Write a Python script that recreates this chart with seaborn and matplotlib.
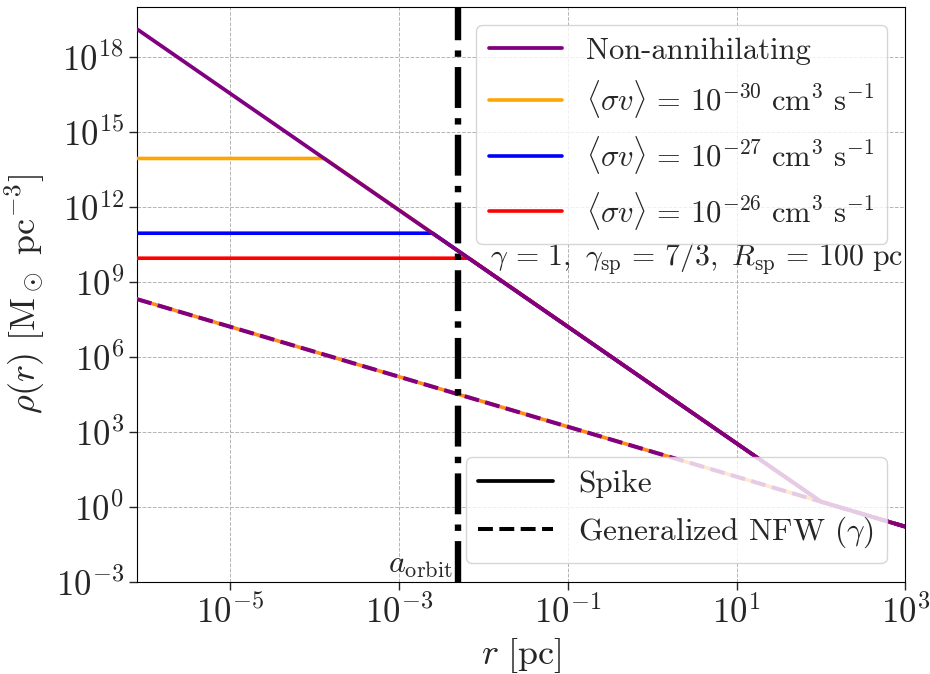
import numpy as np
import pandas as pd
import seaborn as sns
import matplotlib.pyplot as plt
from matplotlib.lines import Line2D
from matplotlib.ticker import FixedLocator, LogFormatterMathtext, NullLocator

# values (log10 of r in pc and rho in Msun/pc^3)
log_r_edges = [-6.1, 2.0, 3.0]          # left edge, R_sp, right edge
log_rho_spike = [19.1, 0.2, -0.8]       # non-annihilating spike (+ NFW tail beyond R_sp)
log_rho_nfw_edges = [8.3, -0.8]         # generalized NFW at left/right edge

sigv_labels = [r"$\langle \sigma v \rangle \,=\, 10^{-30}\ {\rm cm^3\ s^{-1}}$",
               r"$\langle \sigma v \rangle \,=\, 10^{-27}\ {\rm cm^3\ s^{-1}}$",
               r"$\langle \sigma v \rangle \,=\, 10^{-26}\ {\rm cm^3\ s^{-1}}$"]
sigv_colors = ["orange", "blue", "red"]
log_rho_plateau = [13.93, 10.94, 9.94]
log_r_break = [-3.88, -2.60, -2.17]

a_orbit = 5e-3

sns.set_style("ticks")
plt.rcParams.update({
    "font.family": "serif",
    "font.serif": ["cmr10", "DejaVu Serif"],
    "mathtext.fontset": "cm",
    "axes.unicode_minus": False,
    "axes.formatter.use_mathtext": True,
})

fig = plt.figure(figsize=(9.3, 6.74), dpi=100)
ax = fig.add_axes([0.1475, 0.137, 0.826, 0.853])

r_spike = [10**v for v in log_r_edges]
rho_spike = [10**v for v in log_rho_spike]
r_nfw = [10**log_r_edges[0], 10**log_r_edges[-1]]
rho_nfw = [10**v for v in log_rho_nfw_edges]

# annihilating profiles: plateau, then spike
for lab, col, lp, lb in zip(sigv_labels, sigv_colors, log_rho_plateau, log_r_break):
    df = pd.DataFrame({
        "r": [r_spike[0], 10**lb, r_spike[1], r_spike[2]],
        "rho": [10**lp, 10**lp, rho_spike[1], rho_spike[2]],
    })
    sns.lineplot(data=df, x="r", y="rho", color=col, lw=2.6, ax=ax,
                 estimator=None, label=lab, zorder=3)

# NFW (orange under purple dashes)
df_nfw = pd.DataFrame({"r": r_nfw, "rho": rho_nfw})
sns.lineplot(data=df_nfw, x="r", y="rho", color="#ff8c1a", lw=2.6, ax=ax,
             estimator=None, zorder=3)
sns.lineplot(data=df_nfw, x="r", y="rho", color="purple", lw=2.9, ax=ax,
             estimator=None, linestyle="--", zorder=4)

# non-annihilating spike
df_sp = pd.DataFrame({"r": r_spike, "rho": rho_spike})
sns.lineplot(data=df_sp, x="r", y="rho", color="purple", lw=2.7, ax=ax,
             estimator=None, label="Non-annihilating", zorder=5)

ax.axvline(a_orbit, color="black", lw=4.6, linestyle="-.", zorder=4)
ax.text(a_orbit * 0.86, 4e-3, r"$a_{\rm orbit}$", ha="right", va="center",
        fontsize=23)

ax.set_xscale("log")
ax.set_yscale("log")
ax.set_xlim(10**-6.1, 1e3)
ax.set_ylim(1e-3, 1e20)
ax.xaxis.set_major_locator(FixedLocator([1e-5, 1e-3, 1e-1, 1e1, 1e3]))
ax.yaxis.set_major_locator(FixedLocator([10.0**k for k in range(-3, 19, 3)]))
ax.xaxis.set_minor_locator(NullLocator())
ax.yaxis.set_minor_locator(NullLocator())
ax.xaxis.set_major_formatter(LogFormatterMathtext())
ax.yaxis.set_major_formatter(LogFormatterMathtext())
ax.tick_params(labelsize=25, length=6, width=1)
ax.grid(True, color="0.7", linestyle="--", lw=0.7)
for s in ax.spines.values():
    s.set_color("black")

ax.set_xlabel(r"$r\ [{\rm pc}]$", fontsize=26, labelpad=4)
ax.set_ylabel(r"$\rho(r)\ [{\rm M_\odot\ pc^{-3}}]$", fontsize=26, labelpad=6)

handles, labels = ax.get_legend_handles_labels()
order = [labels.index("Non-annihilating")] + [labels.index(l) for l in sigv_labels]
leg1 = ax.legend([handles[i] for i in order], [labels[i] for i in order],
                 loc="upper right", fontsize=22, handlelength=2.4,
                 labelspacing=0.45, borderaxespad=0.6)
ax.add_artist(leg1)
proxy = [Line2D([], [], color="black", lw=2.7),
         Line2D([], [], color="black", lw=2.9, linestyle="--")]
ax.legend(proxy, ["Spike", r"Generalized NFW ($\gamma$)"], loc="lower right",
          fontsize=22.5, handlelength=2.4, labelspacing=0.55, borderaxespad=0.6)

ax.text(0.997, 0.563,
        r"$\gamma \,=\, 1,\ \gamma_{\rm sp} \,=\, 7/3,\ R_{\rm sp} \,=\, 100\ {\rm pc}$",
        transform=ax.transAxes, ha="right", va="center", fontsize=21.5)

fig.savefig("out.png", dpi=100)
